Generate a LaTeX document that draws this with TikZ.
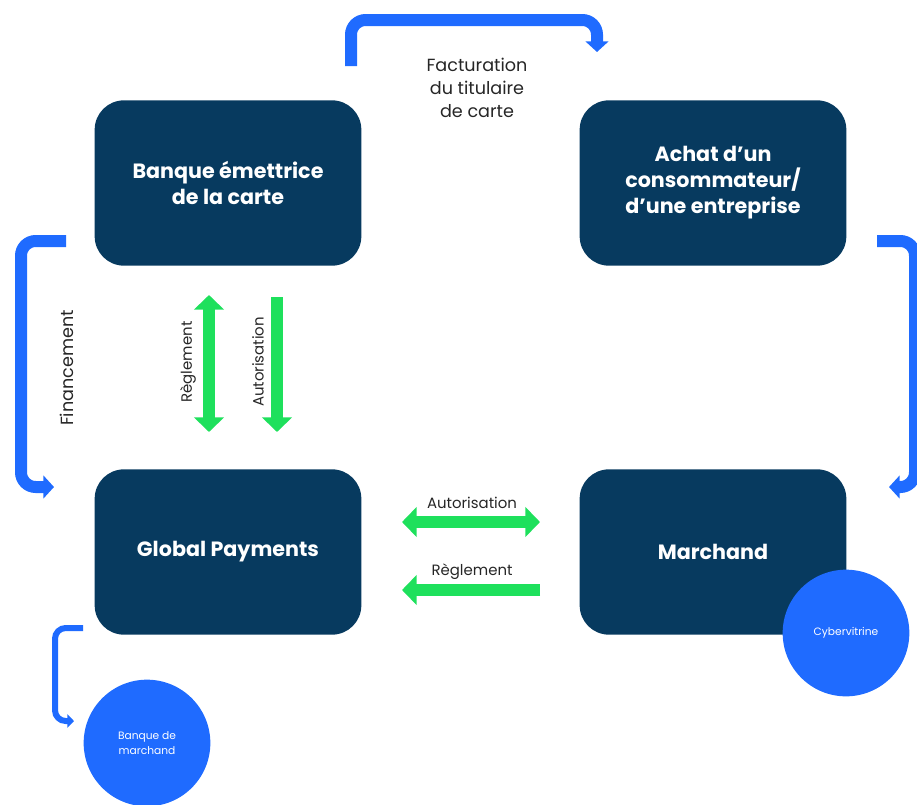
\documentclass[tikz,border=0pt]{standalone}
\usepackage{fontspec}
\setmainfont{Poppins}
\usetikzlibrary{arrows.meta}

\definecolor{navy}{HTML}{073A5F}
\definecolor{flowblue}{HTML}{1F6BFF}
\definecolor{flowgreen}{HTML}{1EE05C}

\tikzset{
  partybox/.style={rectangle, rounded corners=22pt, fill=navy, text=white,
    minimum width=200pt, minimum height=124pt, align=center,
    font=\fontsize{15.5}{19.5}\selectfont\bfseries},
  partycircle/.style={circle, fill=flowblue, text=white, minimum size=95pt,
    inner sep=0pt, align=center, font=\fontsize{8}{11}\selectfont},
  flowlabel/.style={text=black!85, align=center, font=\fontsize{13.2}{17}\selectfont},
  sidelabel/.style={text=black!85, font=\fontsize{11.2}{13}\selectfont},
  bluearrow/.style={draw=flowblue, line width=9pt, rounded corners=11pt,
    -{Triangle[width=17pt,length=8pt]}},
  thinbluearrow/.style={draw=flowblue, line width=4.5pt, rounded corners=8pt,
    -{Triangle[width=10pt,length=5pt]}},
  greenarrow/.style={draw=flowgreen, line width=9pt,
    -{Triangle[width=22pt,length=11pt]}},
  greenboth/.style={greenarrow, {Triangle[width=22pt,length=11pt]}-{Triangle[width=22pt,length=11pt]}}
}

\begin{document}
\begin{tikzpicture}[x=0.75pt, y=-0.75pt]
\useasboundingbox (0,0) rectangle (917,804);
%
% --- Parties ---
\node[partybox] (issuer) at (228,183) {Banque émettrice\\de la carte};
\node[partybox] (purchase) at (713,183) {Achat d’un\\consommateur/\\d’une entreprise};
\node[partybox] (gp) at (228,552) {Global Payments};
\node[partybox] (merchant) at (713,552) {Marchand};
\node[partycircle] (web) at (846,633) {Cybervitrine};
\node[partycircle] (mbank) at (147,743) {Banque de\\marchand};
%
% --- Arrow ends ---
\coordinate (billA) at (351,66);
\coordinate (billB) at (597,52);
\coordinate (fundA) at (66,241);
\coordinate (fundB) at (54,487);
\coordinate (saleA) at (877,241);
\coordinate (saleB) at (889,487);
\coordinate (bankA) at (83,628);
\coordinate (bankB) at (74,721);
\coordinate (settleT) at (209,295);
\coordinate (settleB) at (209,432);
\coordinate (authT) at (277,297);
\coordinate (authB) at (277,432);
\coordinate (authL) at (402,522);
\coordinate (authR) at (540,522);
\coordinate (payL) at (402,590);
\coordinate (payR) at (540,590);
%
% --- Blue flows ---
\draw[bluearrow] (billA) |- (597,20) -- (billB);
\draw[bluearrow] (fundA) -| (21,487) -- (fundB);
\draw[bluearrow] (saleA) -| (915,487) -- (saleB);
\draw[thinbluearrow] (bankA) -| (55,721) -- (bankB);
%
% --- Green flows ---
\draw[greenboth] (settleT) -- (settleB);
\draw[greenarrow] (authT) -- (authB);
\draw[greenboth] (authL) -- (authR);
\draw[greenarrow] (payR) -- (payL);
%
% --- Labels ---
\node[flowlabel] at (477,88) {Facturation\\du titulaire\\de carte};
\node[flowlabel, rotate=90] at (67,368) {Financement};
\node[sidelabel, rotate=90] at (188,362) {Règlement};
\node[sidelabel, rotate=90] at (258,362) {Autorisation};
\node[sidelabel] at (472,503) {Autorisation};
\node[sidelabel] at (472,572) {Règlement};
%
\end{tikzpicture}
\end{document}
